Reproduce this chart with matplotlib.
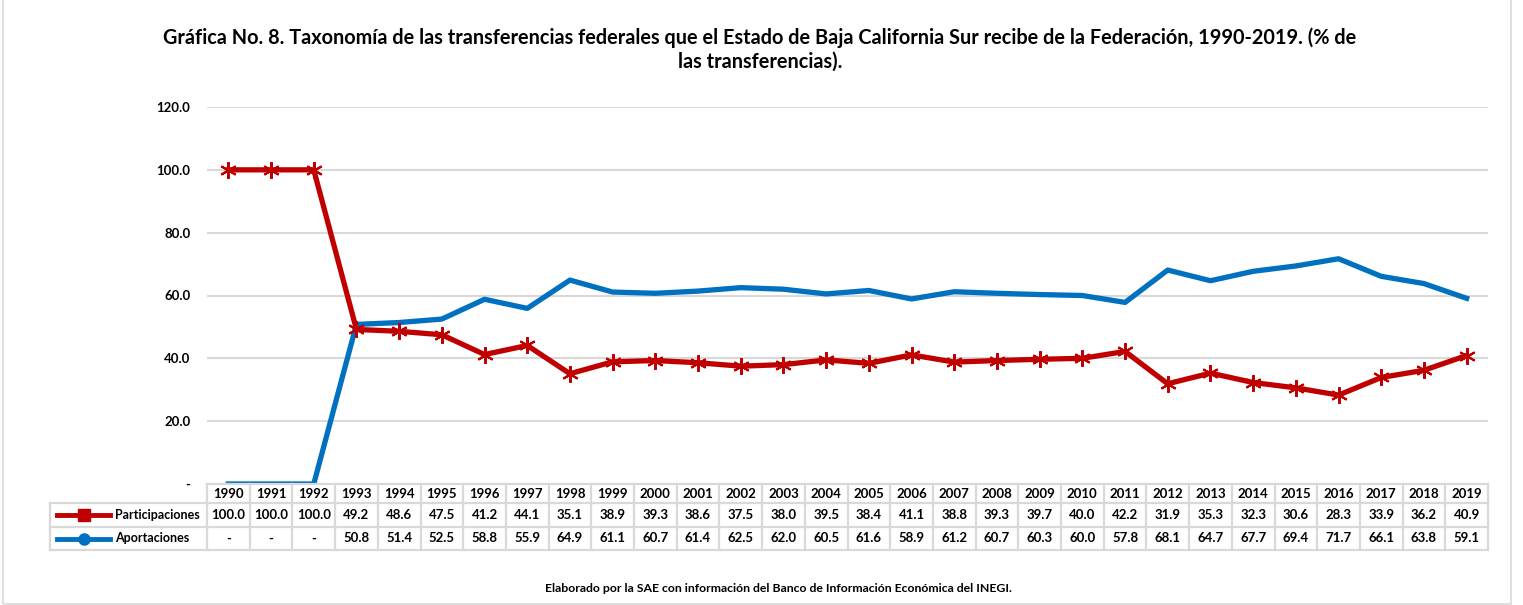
import matplotlib.pyplot as plt
from matplotlib.lines import Line2D
from matplotlib.patches import Rectangle

years = list(range(1990, 2020))
participaciones = [100.0, 100.0, 100.0, 49.2, 48.6, 47.5, 41.2, 44.1, 35.1, 38.9,
                   39.3, 38.6, 37.5, 38.0, 39.5, 38.4, 41.1, 38.8, 39.3, 39.7,
                   40.0, 42.2, 31.9, 35.3, 32.3, 30.6, 28.3, 33.9, 36.2, 40.9]
aportaciones = [0.0, 0.0, 0.0, 50.8, 51.4, 52.5, 58.8, 55.9, 64.9, 61.1,
                60.7, 61.4, 62.5, 62.0, 60.5, 61.6, 58.9, 61.2, 60.7, 60.3,
                60.0, 57.8, 68.1, 64.7, 67.7, 69.4, 71.7, 66.1, 63.8, 59.1]
yticks = [0, 20, 40, 60, 80, 100, 120]

RED = '#C00000'
BLUE = '#0070C0'
GRID = '#D9D9D9'
FONT = 'Lato'

W, H = 1523, 605
fig = plt.figure(figsize=(W / 100, H / 100), dpi=100)

# axes placement in pixels
x0, x1 = 207, 1488
y_top, y_bot = 107, 484
ax = fig.add_axes([x0 / W, 1 - y_bot / H, (x1 - x0) / W, (y_bot - y_top) / H])

n = len(years)
xs = list(range(n))
ax.plot(xs, aportaciones, color=BLUE, lw=3.8, solid_joinstyle='round', zorder=3)
ax.plot(xs, participaciones, color=RED, lw=3.8, marker=(6, 2, 0), ms=12,
        mew=1.5, mec=RED, solid_joinstyle='round', zorder=4)

ax.set_xlim(-0.5, n - 0.5)
ax.set_ylim(0, 120)
ax.set_yticks(yticks)
ax.set_yticklabels(['-' if v == 0 else f'{v:.1f}' for v in yticks],
                   fontsize=9.5, fontweight='bold', family=FONT)
ax.tick_params(axis='y', length=0, pad=12)
ax.set_xticks([])
ax.grid(axis='y', color=GRID, lw=1.5)
ax.set_axisbelow(True)
for s in ax.spines.values():
    s.set_visible(False)

# data table drawn in pixel coordinates
def fx(px):
    return px / W

def fy(py):
    return 1 - py / H

rows = [484, 503, 527, 550]
col_w = (x1 - x0) / n
lkw = dict(color=GRID, lw=1.6, transform=fig.transFigure)
for r in rows:
    fig.add_artist(Line2D([fx(x0), fx(x1)], [fy(r), fy(r)], **lkw))
for r in rows[1:]:
    fig.add_artist(Line2D([fx(50), fx(x0)], [fy(r), fy(r)], **lkw))
for i in range(n + 1):
    xp = x0 + i * col_w
    fig.add_artist(Line2D([fx(xp), fx(xp)], [fy(rows[0]), fy(rows[3])], **lkw))
fig.add_artist(Line2D([fx(50), fx(50)], [fy(rows[1]), fy(rows[3])], **lkw))

tkw = dict(fontsize=9.5, fontweight='bold', family=FONT, ha='center', va='center')
for i, yr in enumerate(years):
    xc = fx(x0 + (i + 0.5) * col_w)
    fig.text(xc, fy((rows[0] + rows[1]) / 2), str(yr), **tkw)
    fig.text(xc, fy((rows[1] + rows[2]) / 2), f'{participaciones[i]:.1f}', **tkw)
    a = aportaciones[i]
    fig.text(xc, fy((rows[2] + rows[3]) / 2), '-' if a == 0 else f'{a:.1f}', **tkw)

# legend keys inside the table
for (r0, r1), color, mk, label in [((rows[1], rows[2]), RED, 's', 'Participaciones'),
                                   ((rows[2], rows[3]), BLUE, 'o', 'Aportaciones')]:
    yc = fy((r0 + r1) / 2)
    fig.add_artist(Line2D([fx(57), fx(110)], [yc, yc], color=color, lw=3.5,
                          transform=fig.transFigure))
    fig.add_artist(Line2D([fx(83.5)], [yc], color=color, marker=mk, ms=8,
                          mec=color, transform=fig.transFigure))
    fig.text(fx(115), yc, label, fontsize=9, fontweight='bold', family=FONT,
             ha='left', va='center')

fig.text(fx(760), fy(38),
         'Gráfica No. 8. Taxonomía de las transferencias federales que el Estado de '
         'Baja California Sur recibe de la Federación, 1990-2019. (% de',
         fontsize=14.3, fontweight='bold', family=FONT, ha='center', va='center')
fig.text(fx(760), fy(62), 'las transferencias).',
         fontsize=14.3, fontweight='bold', family=FONT, ha='center', va='center')
fig.text(fx(778), fy(588),
         'Elaborado por la SAE con información del Banco de Información Económica del INEGI.',
         fontsize=8.8, fontweight='bold', family=FONT, ha='center', va='center')

fig.add_artist(Rectangle((fx(3), fy(604)), fx(1511 - 3), fy(0) - fy(604) + 0.01,
                         fill=False, ec=GRID, lw=1.2, transform=fig.transFigure))

fig.savefig('out.png', dpi=100)
